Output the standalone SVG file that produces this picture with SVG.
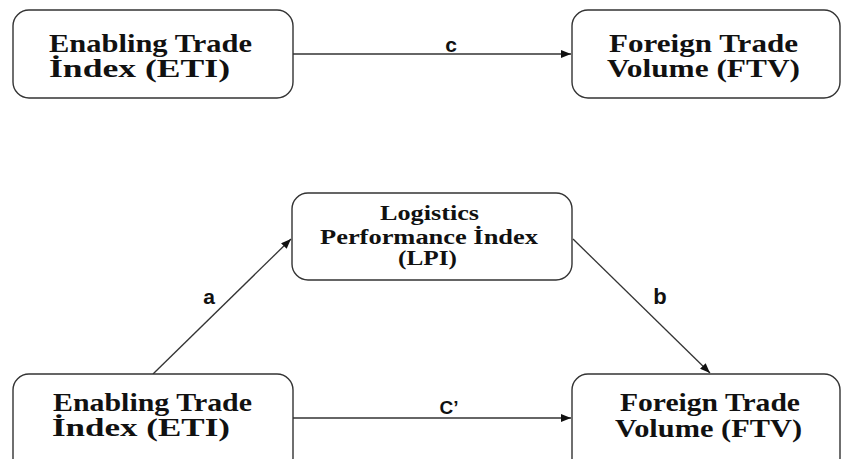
<svg xmlns="http://www.w3.org/2000/svg" width="841" height="459" viewBox="0 0 841 459">
<style>
.box{fill:#fff;stroke:#333;stroke-width:1.4}
.t{font-family:"Liberation Serif","Times New Roman",serif;font-weight:bold;fill:#111}
.big{font-size:25px}
.mid{font-size:20px}
.lbl{font-family:"Liberation Sans",Arial,sans-serif;font-weight:bold;fill:#111;text-anchor:middle}
.edge{stroke:#333;stroke-width:1.3;fill:none;marker-end:url(#ah)}
</style>
<defs>
<marker id="ah" viewBox="0 0 10 8" refX="10" refY="4" markerWidth="11" markerHeight="8" markerUnits="userSpaceOnUse" orient="auto">
<path d="M0,0 L10,4 L0,8 Z" fill="#111"/>
</marker>
</defs>
<rect width="841" height="459" fill="#fff"/>
<g id="connectors">
<line class="edge" x1="293" y1="54" x2="571" y2="54"/>
<line class="edge" x1="293" y1="418" x2="571" y2="418"/>
<line class="edge" x1="153" y1="374" x2="291" y2="239"/>
<line class="edge" x1="573" y1="239" x2="710" y2="373"/>
<text class="lbl" x="451" y="52" font-size="21">c</text>
<text class="lbl" x="449" y="414" font-size="19">C’</text>
<text class="lbl" x="209" y="304" font-size="21">a</text>
<text class="lbl" x="660" y="304" font-size="22">b</text>
</g>
<g id="eti-top">
<rect class="box" x="13" y="10" width="280" height="88" rx="16"/>
<text class="t big" x="49" y="52" textLength="203" lengthAdjust="spacingAndGlyphs">Enabling Trade</text>
<text class="t big" x="49" y="77" textLength="181" lengthAdjust="spacingAndGlyphs">İndex (ETI)</text>
</g>
<g id="ftv-top">
<rect class="box" x="572" y="10" width="268" height="88" rx="16"/>
<text class="t big" x="609" y="52" textLength="189" lengthAdjust="spacingAndGlyphs">Foreign Trade</text>
<text class="t big" x="607" y="77" textLength="193" lengthAdjust="spacingAndGlyphs">Volume (FTV)</text>
</g>
<g id="lpi">
<rect class="box" x="292" y="193" width="280" height="87" rx="16"/>
<text class="t mid" x="380" y="220" textLength="99" lengthAdjust="spacingAndGlyphs">Logistics</text>
<text class="t mid" x="320" y="244" textLength="218" lengthAdjust="spacingAndGlyphs">Performance İndex</text>
<text class="t mid" x="398" y="265" textLength="59" lengthAdjust="spacingAndGlyphs">(LPI)</text>
</g>
<g id="eti-bottom">
<rect class="box" x="13" y="374" width="280" height="100" rx="16"/>
<text class="t big" x="53" y="411" textLength="199" lengthAdjust="spacingAndGlyphs">Enabling Trade</text>
<text class="t big" x="52" y="436" textLength="178" lengthAdjust="spacingAndGlyphs">İndex (ETI)</text>
</g>
<g id="ftv-bottom">
<rect class="box" x="572" y="374" width="268" height="100" rx="16"/>
<text class="t big" x="620" y="411" textLength="180" lengthAdjust="spacingAndGlyphs">Foreign Trade</text>
<text class="t big" x="615" y="437" textLength="187" lengthAdjust="spacingAndGlyphs" font-size="27">Volume (FTV)</text>
</g>
</svg>
